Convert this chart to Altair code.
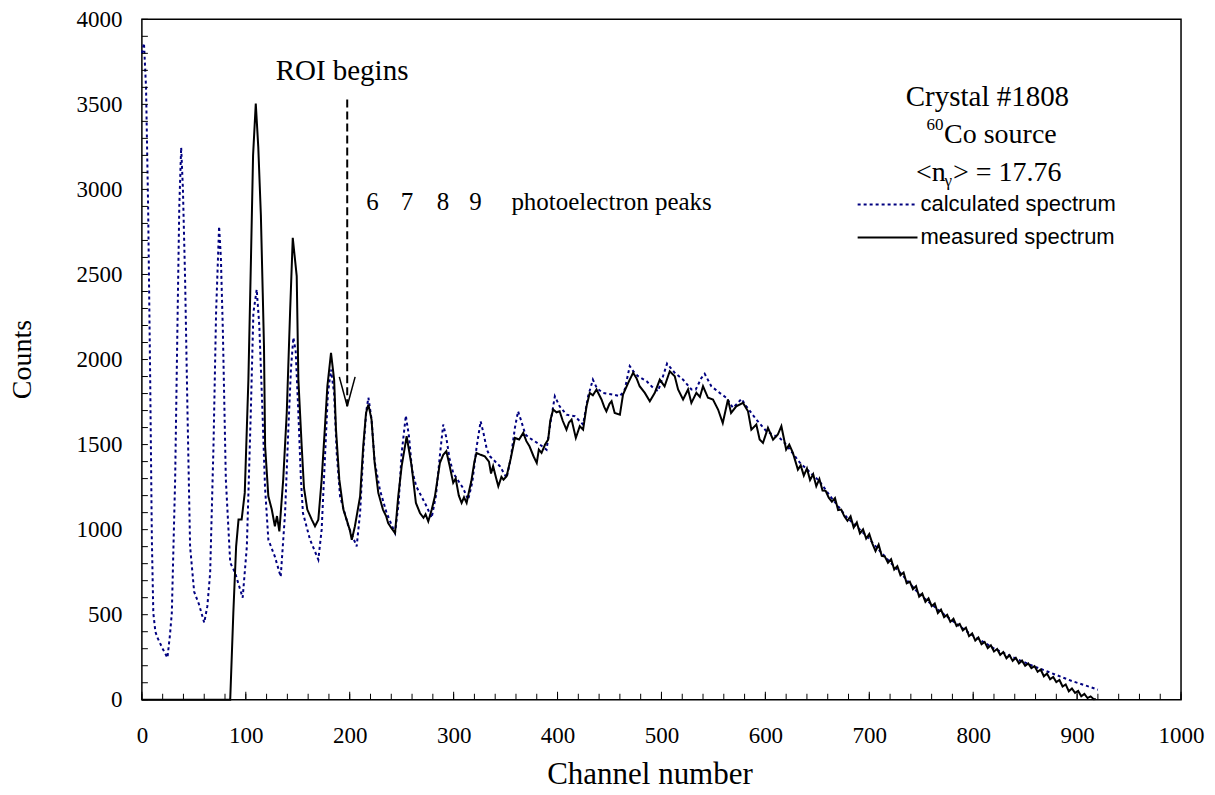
import altair as alt
import pandas as pd

# ---------------- data ----------------
calc_ch = [0, 2, 4, 6, 8, 9.6, 11, 13, 15, 20, 24.6, 27, 28.8, 32, 34.6, 36, 37.8, 39.5, 41.6, 43.9,
           46.4, 50.3, 55, 60, 63, 65.7, 68.9, 71.4, 74.3, 76, 77.9, 80.8, 85, 89.7, 93, 97, 101, 104.8,
           107.3, 110.5, 113, 116, 118.5, 121.7, 128, 133.6, 137.8, 141, 143.5, 145.8, 148, 150.5, 153,
           155, 161.8, 169.8, 173, 176, 179, 182, 185, 187.5, 190.7, 198.7, 206.7, 210, 213, 216, 218,
           221, 224, 229, 235.5, 243.6, 247, 250, 254, 257, 260, 264, 274, 278.8, 283, 287, 290, 293,
           296, 299.6, 309, 314, 318, 322, 326, 329, 332, 335, 344.5, 351, 355, 359, 362, 365, 369, 373,
           383, 389.4, 393, 397.4, 402, 408.6, 416.6, 424.6, 429.4, 434, 438, 443.8, 453.5, 460, 464.7,
           469.5, 473, 477.5, 485.6, 492, 496.7, 501.5, 505.4, 509, 512.8, 520.8, 528.9, 533, 538.5,
           541.6, 548, 556, 562.5, 568.8, 573.6, 577, 581.7, 591.3, 601, 613.8, 620, 633, 645, 652, 662,
           678, 697, 716, 729, 748, 768, 787, 796, 819, 838, 857, 876, 895, 910, 920]
calc_counts = [3800, 3860, 3600, 2900, 1880, 941, 510, 400, 365, 300, 247, 380, 510, 1294, 2350, 2900,
               3247, 3000, 2470, 1688, 900, 635, 560, 453, 550, 747, 1490, 2275, 2783, 2600, 2176, 1294,
               806, 747, 680, 600, 900, 1688, 2275, 2412, 2200, 1700, 1250, 941, 841, 723, 1098, 1600,
               1950, 2129, 2050, 1700, 1300, 1098, 941, 824, 1000, 1400, 1800, 1941, 1800, 1450, 1196,
               1020, 902, 1100, 1450, 1700, 1776, 1650, 1400, 1235, 1098, 981, 1150, 1450, 1670, 1550,
               1350, 1255, 1137, 1069, 1200, 1450, 1618, 1540, 1420, 1333, 1245, 1176, 1280, 1480, 1637,
               1560, 1470, 1431, 1373, 1304, 1420, 1600, 1696, 1640, 1560, 1539, 1500, 1470, 1620, 1784,
               1725, 1676, 1667, 1618, 1784, 1882, 1830, 1804, 1794, 1784, 1824, 1961, 1930, 1902, 1873,
               1833, 1814, 1902, 1976, 1950, 1922, 1882, 1824, 1824, 1892, 1916, 1843, 1804, 1775, 1716,
               1745, 1769, 1725, 1647, 1578, 1539, 1500, 1395, 1325, 1285, 1200, 1075, 965, 835, 752,
               622, 520, 432, 392, 305, 250, 200, 155, 110, 80, 59]

meas_ch = [0, 84, 85, 88, 90.7, 93, 96, 99, 102.5, 105, 107, 109.6, 112, 114.5, 116.3, 117.5, 118.6,
           121.7, 125, 128, 130, 132.3, 136, 139.4, 142.6, 145.2, 149, 150.6, 153.8, 156, 159.2, 163.5,
           166.6, 169.8, 173, 176, 178.5, 182, 185, 186.8, 190, 193.9, 197, 200, 202, 205, 210, 213,
           215.7, 218, 221, 224, 227.5, 232, 235, 237, 240, 243.6, 246.7, 250, 254.8, 259.6, 263.7,
           267.6, 271, 273, 275.6, 279, 282, 286.8, 290, 293, 296, 299.6, 302, 305, 307.7, 310, 312.5,
           315, 317, 320, 322, 326, 330, 334, 336, 338, 341, 343, 346, 348, 351, 355, 359, 363, 367,
           370, 373, 377, 380, 382, 384.6, 388, 391, 393, 395.8, 399, 402, 405, 408.6, 411, 413.5,
           417.6, 421.4, 424.6, 427.9, 431, 434, 437.5, 442.3, 445, 447, 450, 452, 455, 460, 463, 468,
           472.7, 476, 479, 484, 488.8, 493.6, 498.4, 503, 508, 512.8, 516, 520.8, 525.6, 528.8, 533.6,
           537, 540, 544.8, 549.6, 554.5, 559, 564, 567, 572, 578.5, 583.3, 586.5, 591.3, 594.5, 597.7,
           602.5, 607.4, 612, 615.4, 620, 623, 626.5, 631.3,
           634, 637, 640, 643, 646, 649, 652, 655, 658, 661, 664, 667, 670, 673, 676, 679, 682, 685,
           688, 691, 694, 697, 700, 703, 706, 709, 712, 715, 718, 721, 724, 727, 730, 733, 736, 739,
           742, 745, 748, 751, 754, 757, 760, 763, 766, 769, 772, 775, 778, 781, 784, 787, 790, 793,
           796, 799, 802, 805, 808, 811, 814, 817, 820, 823, 826, 829, 832, 835, 838, 841, 844, 847,
           850, 853, 856, 859, 862, 865, 868, 871, 874, 877, 880, 883, 886, 889, 892, 895, 898, 901,
           904, 907, 910, 913, 916, 918]
meas_counts = [0, 0, 0, 510, 902, 1059, 1059, 1216, 1882, 2600, 3200, 3505, 3250, 2850, 2392, 2078,
               1490, 1196, 1118, 1020, 1080, 990, 1294, 1686, 2275, 2716, 2490, 1882, 1490, 1245, 1118,
               1059, 1020, 1059, 1294, 1588, 1843, 2039, 1882, 1588, 1294, 1118, 1059, 1000, 941, 1020,
               1196, 1490, 1686, 1735, 1647, 1392, 1216, 1118, 1080, 1039, 1010, 980, 1196, 1373, 1549,
               1373, 1157, 1098, 1070, 1090, 1049, 1120, 1196, 1392, 1440, 1461, 1380, 1275, 1300, 1200,
               1157, 1190, 1157, 1230, 1284, 1400, 1451, 1440, 1431, 1400, 1330, 1373, 1300, 1255, 1310,
               1294, 1314, 1420, 1539, 1530, 1569, 1520, 1490, 1430, 1392, 1470, 1451, 1500, 1529, 1640,
               1706, 1690, 1696, 1640, 1588, 1630, 1647, 1539, 1608, 1588, 1725, 1804, 1790, 1824, 1765,
               1720, 1696, 1740, 1755, 1686, 1676, 1794, 1863, 1922, 1890, 1843, 1804, 1755, 1804, 1882,
               1843, 1931, 1902, 1824, 1765, 1824, 1745, 1804, 1780, 1843, 1775, 1765, 1706, 1627, 1765,
               1686, 1725, 1745, 1696, 1588, 1618, 1530, 1510, 1598, 1529, 1559, 1608, 1471, 1500, 1451,
               1353,
               1378, 1318, 1360, 1292, 1326, 1255, 1298, 1230, 1228, 1188, 1165, 1186, 1115, 1118, 1078,
               1052, 1078, 1012, 1042, 978, 1002, 948, 975, 918, 874, 912, 846, 842, 806, 826, 766, 786,
               732, 748, 684, 694, 650, 668, 606, 624, 575, 596, 550, 566, 510, 530, 486, 500, 458, 476,
               434, 446, 408, 424, 374, 390, 348, 366, 326, 340, 304, 320, 284, 298, 264, 280, 244, 262,
               228, 246, 214, 230, 200, 214, 186, 198, 164, 178, 138, 154, 120, 134, 104, 116, 78, 90,
               50, 66, 40, 52, 20, 34, 10, 20, 3, 5]

# axis ticks and labels
x_labels = list(range(0, 1001, 100))
x_minor = list(range(0, 1001, 20))
y_labels = list(range(0, 4001, 500))
y_minor = list(range(0, 4001, 100))

# annotations (data coordinates)
arrow_shaft = {"ch": [197.6], "top": [3529], "ch2": [197.6], "bot": [1725]}
arrow_head = {"ch": [190.0, 205.2], "cnt": [1898, 1898], "ch2": [197.6, 197.6], "cnt2": [1725, 1725]}
big_center = {"t": ["ROI begins", "Crystal #1808"], "ch": [192.6, 813.7], "cnt": [3694, 3541]}
big_left = {"t": ["Co source", "<n", "> = 17.76"], "ch": [772.0, 745.0, 780.5], "cnt": [3318, 3094, 3094]}
small_left = {"t": ["60", "γ"], "ch": [755.0, 772.5], "cnt": [3378, 3050]}
peaks = {"t": ["6", "7", "8", "9", "photoelectron peaks"], "ch": [222, 255, 289.7, 321, 452],
         "cnt": [2924, 2924, 2924, 2924, 2924]}
legend_lab = {"t": ["calculated spectrum", "measured spectrum"], "ch": [749.3, 749.3], "cnt": [2912, 2718]}
legend_calc = {"ch": [688.8], "ch2": [746.4], "cnt": [2912]}
legend_meas = {"ch": [688.8], "ch2": [746.4], "cnt": [2718]}

W, H = 1040, 681
SERIF = "Liberation Serif"
NAVY = "#000080"

xs = alt.Scale(domain=[0, 1000], nice=False, zero=False)
ys = alt.Scale(domain=[0, 4000], nice=False, zero=False)

common = dict(labelFont=SERIF, labelFontSize=23, labelColor="black", titleFont=SERIF,
              titleFontWeight="normal", titleColor="black", labelFlush=False, labelOverlap=False,
              ticks=False, tickSize=0, domain=False, grid=False, format="d")
xaxis = alt.Axis(values=x_labels, title="Channel number", labelPadding=25, titleFontSize=31,
                 titleX=508, titleY=75, titleAlign="center", titleBaseline="middle", **common)
yaxis = alt.Axis(values=y_labels, title="Counts", labelPadding=20, titleFontSize=28, titleAngle=270,
                 titleX=-119, titleY=340, titleAlign="center", titleBaseline="middle", **common)


def X(field):
    return alt.X(field, scale=xs, axis=xaxis)


def Y(field):
    return alt.Y(field, scale=ys, axis=yaxis)


calc = pd.DataFrame({"ch": calc_ch, "cnt": calc_counts})
meas = pd.DataFrame({"ch": meas_ch, "cnt": meas_counts})

calc_line = alt.Chart(calc).mark_line(color=NAVY, strokeWidth=2, strokeDash=[3, 3]).encode(
    x=X("ch:Q"), y=Y("cnt:Q"), order="ch:Q")
meas_line = alt.Chart(meas).mark_line(color="black", strokeWidth=2).encode(
    x=X("ch:Q"), y=Y("cnt:Q"), order="ch:Q")

xminor = alt.Chart(pd.DataFrame({"v": x_minor})).mark_rule(color="black", strokeWidth=1).encode(
    x=X("v:Q"), y=alt.value(H), y2=alt.value(H - 6))
xmajor = alt.Chart(pd.DataFrame({"v": x_labels})).mark_rule(color="black", strokeWidth=1).encode(
    x=X("v:Q"), y=alt.value(H), y2=alt.value(H - 8))
yminor = alt.Chart(pd.DataFrame({"v": y_minor})).mark_rule(color="black", strokeWidth=1).encode(
    y=Y("v:Q"), x=alt.value(0), x2=alt.value(6))

shaft = alt.Chart(pd.DataFrame(arrow_shaft)).mark_rule(color="black", strokeWidth=2, strokeDash=[8, 4]).encode(
    x=X("ch:Q"), x2="ch2:Q", y=Y("top:Q"), y2="bot:Q")
head = alt.Chart(pd.DataFrame(arrow_head)).mark_rule(color="black", strokeWidth=1.5).encode(
    x=X("ch:Q"), x2="ch2:Q", y=Y("cnt:Q"), y2="cnt2:Q")


def txt(d, size, align, font=SERIF):
    return alt.Chart(pd.DataFrame(d)).mark_text(
        font=font, fontSize=size, align=align, baseline="middle", color="black").encode(
        x=X("ch:Q"), y=Y("cnt:Q"), text="t:N")


t1 = txt(big_center, 29, "center")
t2 = txt(big_left, 28, "left")
t3 = txt(small_left, 17, "left")
t4 = txt(peaks, 25, "center")
t5 = txt(legend_lab, 22, "left", font="Liberation Sans")

leg1 = alt.Chart(pd.DataFrame(legend_calc)).mark_rule(color=NAVY, strokeWidth=2, strokeDash=[3, 3]).encode(
    x=X("ch:Q"), x2="ch2:Q", y=Y("cnt:Q"))
leg2 = alt.Chart(pd.DataFrame(legend_meas)).mark_rule(color="black", strokeWidth=2).encode(
    x=X("ch:Q"), x2="ch2:Q", y=Y("cnt:Q"))

chart = alt.layer(
    calc_line, meas_line, xminor, xmajor, yminor, shaft, head, t1, t2, t3, t4, t5, leg1, leg2
).properties(
    width=W, height=H,
    autosize=alt.AutoSizeParams(type="none"),
    padding={"left": 142, "top": 19, "right": 34, "bottom": 95},
    background="white",
).configure(
    font=SERIF
).configure_view(
    stroke="black", strokeWidth=1.5
).configure_axis(
    labelFont=SERIF, labelFontSize=23, labelColor="black",
    titleFont=SERIF, titleFontWeight="normal", titleColor="black",
)

chart.save("out.html", embed_options={"renderer": "svg", "actions": False})
